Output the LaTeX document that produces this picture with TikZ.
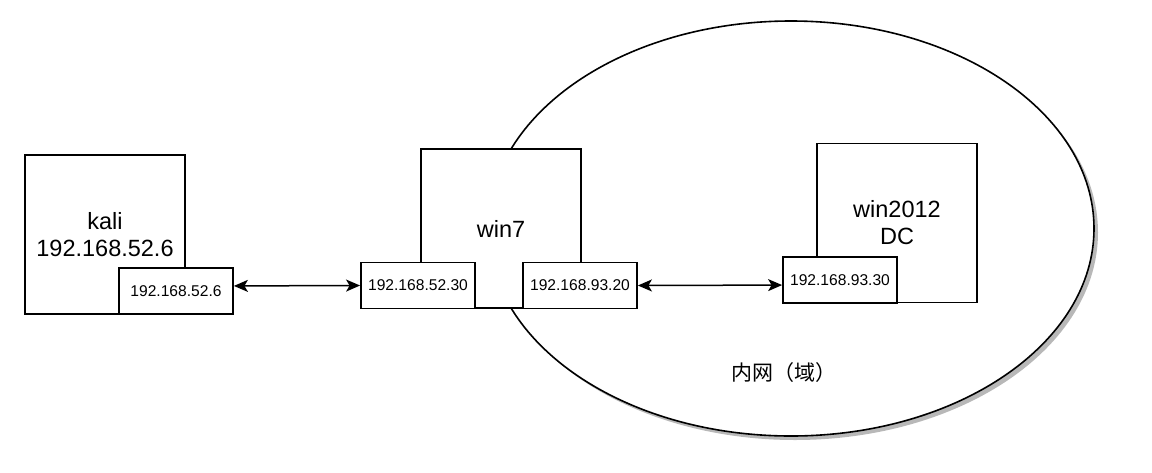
\documentclass[tikz,border=0pt]{standalone}
\usepackage{fontspec}
\setmainfont{Liberation Sans}
\newfontfamily\cjk{Noto Sans CJK SC}
\usetikzlibrary{arrows.meta,shapes.geometric}

\begin{document}
\begin{tikzpicture}[x=1pt,y=-1pt,>={Stealth[length=14pt,width=12pt,inset=3.5pt]},
    lanzone/.style={ellipse,line width=1.6pt,minimum width=606pt,minimum height=415pt},
    host/.style={draw,line width=1.8pt,fill=white,minimum width=160pt,minimum height=159pt,align=center,font=\fontsize{23.5}{27}\selectfont},
    nic/.style={draw,line width=1.8pt,fill=white,minimum width=114pt,minimum height=46pt,inner sep=0pt,font=\fontsize{15.6}{18}\selectfont},
    link/.style={<->,line width=1.5pt}]
    \useasboundingbox (0,0) rectangle (1152,472);
    \node[lanzone,fill=black!28] (lan-shadow) at (795,232.5) {};
    \node[lanzone,draw,fill=white] (lan) at (791,228.5) {};
    \node[inner sep=0pt,font=\cjk\fontsize{21}{24}\selectfont] (lan-name) at (783.5,373) {内网（域）};
    \node[host] (kali) at (105,234.5) {kali\\192.168.52.6};
    \node[host] (win7) at (501,228.5) {win7};
    \node[host] (dc) at (897,223) {win2012\\DC};
    \node[nic] (kali-ip) at (176,291) {192.168.52.6};
    \node[nic] (win7-in) at (418,285.5) {192.168.52.30};
    \node[nic] (win7-out) at (580,285.5) {192.168.93.20};
    \node[nic] (dc-ip) at (840,280) {192.168.93.30};
    \draw[link] (kali-ip.5)--(win7-in.west);
    \draw[link] (win7-out.east)--(dc-ip.185);
\end{tikzpicture}
\end{document}
